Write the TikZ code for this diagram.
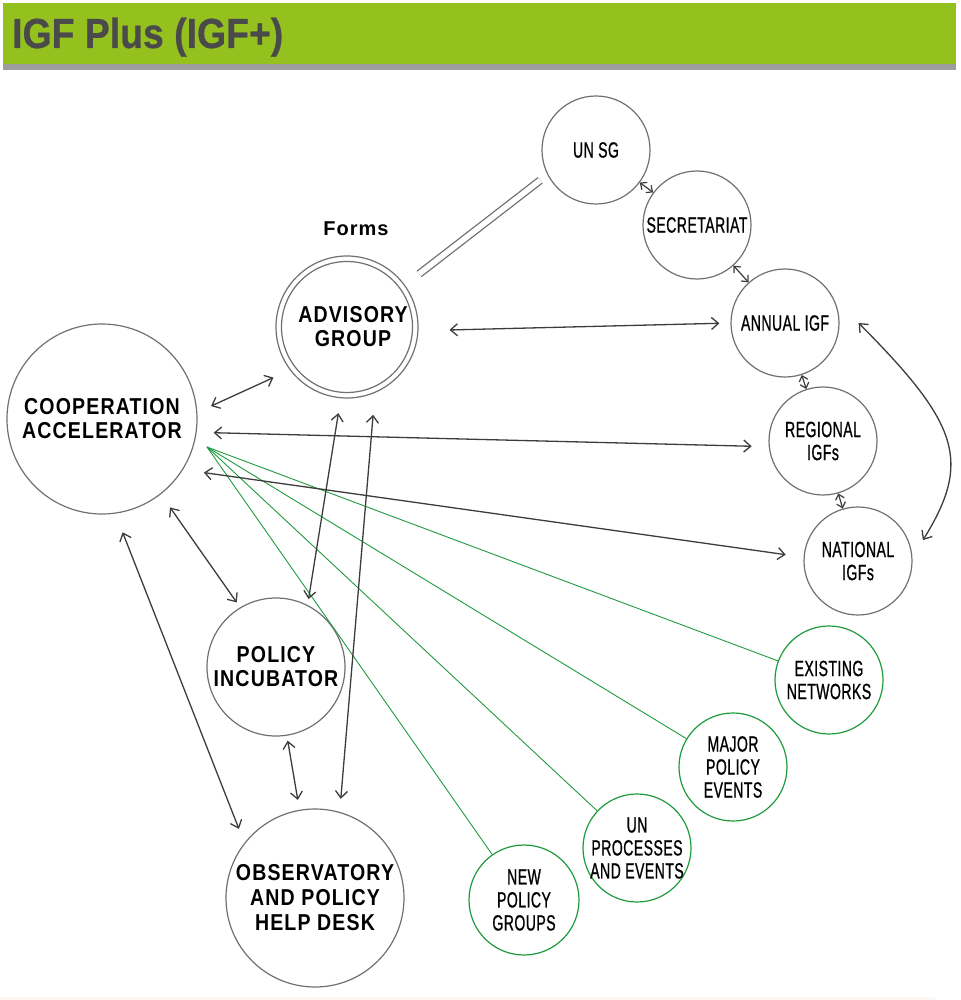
\documentclass[tikz,border=0pt]{standalone}
\usepackage{fontspec}
\usetikzlibrary{arrows.meta}
\newfontfamily\regc{Liberation Sans}[FakeStretch=0.64,LetterSpace=2,FakeBold=0.8]
\newfontfamily\boldc{Liberation Sans}[FakeStretch=0.85,LetterSpace=5]
\newfontfamily\formsf{Liberation Sans}[LetterSpace=5]
\newfontfamily\titlef{Liberation Sans}[FakeStretch=0.89,FakeBold=0.6]
\definecolor{hdrgreen}{HTML}{95C11F}
\definecolor{hdrgray}{HTML}{9D9D9D}
\definecolor{titlegray}{HTML}{4A4A4A}
\definecolor{circgray}{HTML}{707070}
\definecolor{arrc}{HTML}{3C3C3C}
\definecolor{grn}{HTML}{1F9A3E}
\definecolor{bottomc}{HTML}{FCF7F3}
\tikzset{
  circ/.style={circle, draw=circgray, line width=1.2pt, minimum size=#1, inner sep=0pt},
  gcirc/.style={circle, draw=grn, line width=1.2pt, minimum size=#1, inner sep=0pt},
  bt/.style={align=center, inner sep=0pt, text=black, font=\boldc\bfseries\fontsize{23}{24}\selectfont},
  rt/.style={align=center, inner sep=0pt, text=black, font=\regc\fontsize{22}{23}\selectfont},
  arr/.style={draw=arrc, line width=1.3pt, {Straight Barb[length=7pt,width=12pt]}-{Straight Barb[length=7pt,width=12pt]}},
  sarr/.style={draw=arrc, line width=1.2pt, {Straight Barb[length=5pt,width=9pt]}-{Straight Barb[length=5pt,width=9pt]}},
  gline/.style={draw=grn, line width=0.9pt},
  dbl/.style={draw=circgray, line width=1.3pt, double=white, double distance=5.5pt}
}
\begin{document}
\begin{tikzpicture}[x=1pt,y=-1pt]
\useasboundingbox (0,0) rectangle (960,1000);
% header
\fill[hdrgreen] (3,3) rectangle (956,64);
\fill[hdrgray] (3,64) rectangle (956,70);
\node[anchor=base west, text=titlegray, inner sep=0pt] (title) at (12,48)
  {\titlef\bfseries\fontsize{42}{44}\selectfont IGF Plus (IGF+)};
\fill[bottomc] (0,997) rectangle (935,1000);

% circles
\node[circ=108pt] (unsg) at (596,150) {};
\node[circ=108pt] (sec) at (697,225) {};
\node[circ=108pt] (annual) at (785,323) {};
\node[circ=108pt] (regional) at (823,441) {};
\node[circ=108pt] (national) at (858,561) {};
\node[circ=142pt] (ag) at (347,327) {};
\node[circ=131pt] (agin) at (347,327) {};
\node[circ=190pt] (ca) at (102,419) {};
\node[circ=138pt] (pi) at (276,667) {};
\node[circ=178pt] (obs) at (315,898) {};
\node[gcirc=108pt] (en) at (829,680) {};
\node[gcirc=108pt] (mpe) at (733,767) {};
\node[gcirc=108pt] (unp) at (637,848) {};
\node[gcirc=110pt] (npg) at (524,900) {};

% labels
\node[rt] (unsg-t) at (unsg) {UN SG};
\node[rt] (sec-t) at (sec) {SECRETARIAT};
\node[rt] (annual-t) at (annual) {ANNUAL IGF};
\node[rt] (regional-t) at (regional) {REGIONAL\\IGFs};
\node[rt] (national-t) at (national) {NATIONAL\\IGFs};
\node[bt] (ag-t) at (353,327) {ADVISORY\\GROUP};
\node[inner sep=0pt, font=\formsf\bfseries\fontsize{20}{22}\selectfont] (forms) at (356,229) {Forms};
\node[bt] (ca-t) at (ca) {COOPERATION\\ACCELERATOR};
\node[bt] (pi-t) at (pi) {POLICY\\INCUBATOR};
\node[bt, font=\boldc\bfseries\fontsize{23}{25}\selectfont] (obs-t) at (obs) {OBSERVATORY\\AND POLICY\\HELP DESK};
\node[rt] (en-t) at (en) {EXISTING\\NETWORKS};
\node[rt] (mpe-t) at (mpe) {MAJOR\\POLICY\\EVENTS};
\node[rt] (unp-t) at (unp) {UN\\PROCESSES\\AND EVENTS};
\node[rt] (npg-t) at (npg) {NEW\\POLICY\\GROUPS};

% double link advisory group - UN SG
\draw[dbl, shorten <=18pt, shorten >=9pt] (ag.36) -- (unsg.207);

% green links
\coordinate (hub) at (207,447);
\draw[gline] (hub) -- (en);
\draw[gline] (hub) -- (mpe);
\draw[gline] (hub) -- (unp);
\draw[gline] (hub) -- (npg);

% arrows
\draw[arr, shorten <=15pt, shorten >=18pt] (ca.4) -- (ag.217);
\draw[arr, shorten <=31pt, shorten >=11pt] (ag.357) -- (annual.180);
\draw[arr, shorten <=17pt, shorten >=17pt] (ca.352) -- (regional.186);
\draw[arr, shorten <=21pt, shorten >=18pt] (ca.328) -- (national.176);
\draw[arr, shorten <=16pt, shorten >=6pt] (ca.308) -- (pi.121);
\draw[arr, shorten <=20pt, shorten >=15pt] (ca.278) -- (obs.142);
\draw[arr, shorten <=15pt, shorten >=6pt] (ag.265) -- (pi.63);
\draw[arr, shorten <=22pt, shorten >=13pt] (ag.293) -- (obs.74);
\draw[arr, shorten <=5pt, shorten >=10pt] (pi.279) -- (obs.100);
\draw[sarr] (unsg) -- (sec);
\draw[sarr] (sec) -- (annual);
\draw[sarr] (annual) -- (regional);
\draw[sarr] (regional) -- (national);
\draw[arr] ([xshift=19pt]annual.east) .. controls (959,424) and (972,461) .. ([shift={(13pt,4pt)}]national.18);
\end{tikzpicture}
\end{document}
